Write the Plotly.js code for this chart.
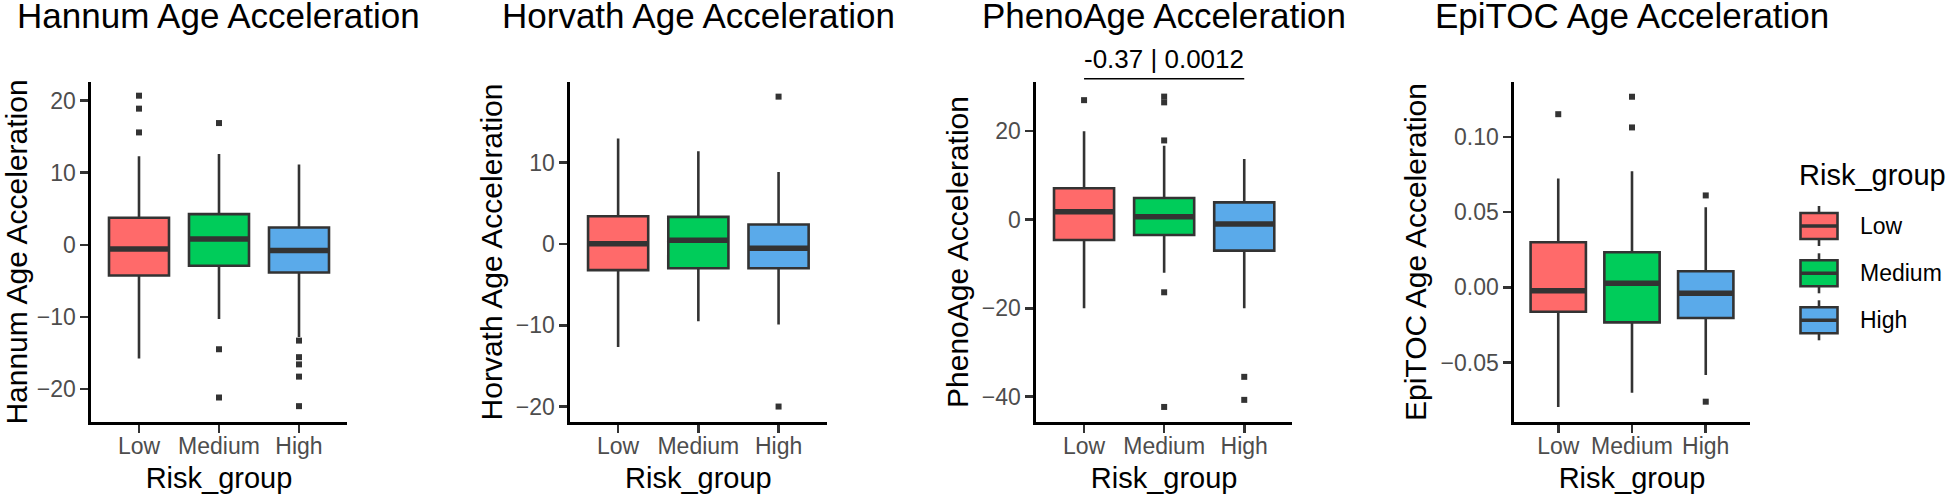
<!DOCTYPE html>
<html>
<head>
<meta charset="utf-8">
<script src="https://cdn.plot.ly/plotly-3.0.1.min.js"></script>
<style>html,body{margin:0;padding:0;background:#fff;}#chart{width:1946px;height:494px;}</style>
</head>
<body>
<div id="chart"></div>
<script>
// ---------------- data ----------------
const groups = ['Low', 'Medium', 'High'];
const groupColors = ['#FF6A6A', '#00CC5A', '#5AAAEA'];
const panelTitles = ['Hannum Age Acceleration', 'Horvath Age Acceleration', 'PhenoAge Acceleration', 'EpiTOC Age Acceleration'];
const xAxisTitle = 'Risk_group';

// Hannum
const hannumLower  = [-15.8, -10.3, -12.8];
const hannumQ1     = [-4.26, -2.9, -3.84];
const hannumMedian = [-0.6, 0.79, -0.79];
const hannumQ3     = [3.75, 4.26, 2.4];
const hannumUpper  = [12.3, 12.6, 11.15];
const hannumOutliers = [[20.7, 18.9, 15.6], [16.9, -14.5, -21.2], [-13.3, -15.6, -16.6, -18.3, -22.4]];

// Horvath
const horvathLower  = [-12.67, -9.5, -9.9];
const horvathQ1     = [-3.23, -2.99, -2.99];
const horvathMedian = [0.0, 0.45, -0.53];
const horvathQ3     = [3.4, 3.32, 2.38];
const horvathUpper  = [12.96, 11.4, 8.85];
const horvathOutliers = [[], [], [18.1, -20.0]];

// PhenoAge
const phenoLower  = [-20.0, -12.0, -20.0];
const phenoQ1     = [-4.6, -3.46, -7.0];
const phenoMedian = [1.8, 0.68, -1.0];
const phenoQ3     = [7.1, 4.9, 3.9];
const phenoUpper  = [20.0, 16.7, 13.7];
const phenoOutliers = [[27.0], [27.8, 26.5, 17.9, -16.4, -42.3], [-35.5, -40.7]];

// EpiTOC
const epitocLower  = [-0.0795, -0.070, -0.0582];
const epitocQ1     = [-0.0162, -0.0233, -0.0204];
const epitocMedian = [-0.0022, 0.0027, -0.0040];
const epitocQ3     = [0.0300, 0.0233, 0.0107];
const epitocUpper  = [0.0723, 0.0771, 0.0533];
const epitocOutliers = [[0.1151], [0.1267, 0.1063], [0.0611, -0.076]];

// comparison annotation (PhenoAge panel, Low vs High)
const statText = '-0.37 | 0.0012';
const statFrom = 'Low';
const statTo = 'High';

// y axis settings per panel
const yRanges = [[-24.6, 22.6], [-21.9, 19.9], [-45.7, 31.1], [-0.0895, 0.1365]];
const yTicks = [[-20, -10, 0, 10, 20], [-20, -10, 0, 10], [-40, -20, 0, 20], [-0.05, 0, 0.05, 0.10]];
const yTickFormats = ['d', 'd', 'd', '.2f'];

// ---------------- layout constants ----------------
const W = 1946, H = 494;
const FONT = 'Liberation Sans, Arial, Helvetica, sans-serif';
const BOX_W = 0.75;
const px = v => v / W;
const py = v => 1 - v / H;
const xDomains = [[91, 347], [570, 826.7], [1036, 1292.3], [1514, 1750]];
const yDomain = [py(422), py(82)];

const panels = [
  {lower: hannumLower, q1: hannumQ1, med: hannumMedian, q3: hannumQ3, upper: hannumUpper, out: hannumOutliers},
  {lower: horvathLower, q1: horvathQ1, med: horvathMedian, q3: horvathQ3, upper: horvathUpper, out: horvathOutliers},
  {lower: phenoLower, q1: phenoQ1, med: phenoMedian, q3: phenoQ3, upper: phenoUpper, out: phenoOutliers},
  {lower: epitocLower, q1: epitocQ1, med: epitocMedian, q3: epitocQ3, upper: epitocUpper, out: epitocOutliers}
];

const traces = [];
const layout = {
  width: W, height: H,
  margin: {l: 0, r: 0, t: 0, b: 0},
  paper_bgcolor: '#ffffff', plot_bgcolor: '#ffffff',
  showlegend: false, boxmode: 'overlay',
  font: {family: FONT, color: '#000'},
  annotations: [], shapes: []
};

panels.forEach((p, k) => {
  const n = k === 0 ? '' : String(k + 1);
  const xa = 'x' + n, ya = 'y' + n;
  groups.forEach((g, i) => {
    traces.push({
      type: 'box', name: g, xaxis: xa, yaxis: ya,
      x: [i], q1: [p.q1[i]], median: [p.med[i]], q3: [p.q3[i]],
      lowerfence: [p.lower[i]], upperfence: [p.upper[i]],
      width: BOX_W, whiskerwidth: 0, boxpoints: false,
      fillcolor: groupColors[i], line: {color: '#333333', width: 2.6},
      hoverinfo: 'skip'
    });
    // thicker median line
    traces.push({
      type: 'scatter', mode: 'lines', xaxis: xa, yaxis: ya,
      x: [i - BOX_W / 2, i + BOX_W / 2], y: [p.med[i], p.med[i]],
      line: {color: '#333333', width: 5.5}, hoverinfo: 'skip'
    });
    if (p.out[i].length) {
      traces.push({
        type: 'scatter', mode: 'markers', xaxis: xa, yaxis: ya,
        x: p.out[i].map(() => i), y: p.out[i],
        marker: {symbol: 'square', size: 6, color: '#333333'},
        cliponaxis: false, hoverinfo: 'skip'
      });
    }
  });
  layout['xaxis' + n] = {
    domain: [px(xDomains[k][0]), px(xDomains[k][1])], anchor: ya,
    range: [-0.6, 2.6], tickvals: [0, 1, 2], ticktext: groups,
    showline: true, linecolor: '#000', linewidth: 2.6,
    ticks: 'outside', ticklen: 8, tickwidth: 2.6, tickcolor: '#333333',
    ticklabelstandoff: -6,
    tickfont: {family: FONT, size: 23, color: '#4D4D4D'},
    showgrid: false, zeroline: false, fixedrange: true,
    title: {text: xAxisTitle, font: {family: FONT, size: 29, color: '#000'}, standoff: 14}
  };
  layout['yaxis' + n] = {
    domain: yDomain, anchor: xa,
    range: yRanges[k], tickvals: yTicks[k], tickformat: yTickFormats[k],
    showline: true, linecolor: '#000', linewidth: 2.6,
    ticks: 'outside', ticklen: 8, tickwidth: 2.6, tickcolor: '#333333',
    tickfont: {family: FONT, size: 23, color: '#4D4D4D'},
    showgrid: false, zeroline: false, fixedrange: true,
    title: {text: panelTitles[k], font: {family: FONT, size: 30, color: '#000'}, standoff: 5}
  };
  // panel title
  layout.annotations.push({
    text: panelTitles[k], xref: xa + ' domain', yref: 'paper', x: 0.5, y: py(16),
    xanchor: 'center', yanchor: 'middle', showarrow: false,
    font: {family: FONT, size: 35, color: '#000'}
  });
});

// comparison bracket + label on PhenoAge panel
const iFrom = groups.indexOf(statFrom), iTo = groups.indexOf(statTo);
layout.shapes.push({
  type: 'line', xref: 'x3', yref: 'paper', x0: iFrom, x1: iTo, y0: py(78.7), y1: py(78.7),
  line: {color: '#000', width: 1.6}
});
layout.annotations.push({
  text: statText, xref: 'x3', yref: 'paper', x: (iFrom + iTo) / 2, y: py(58.8),
  xanchor: 'center', yanchor: 'middle', showarrow: false,
  font: {family: FONT, size: 26, color: '#000'}
});

// custom legend (boxplot glyphs)
layout.annotations.push({
  text: 'Risk_group', xref: 'paper', yref: 'paper', x: px(1797), y: py(175),
  xanchor: 'left', yanchor: 'middle', showarrow: false,
  font: {family: FONT, size: 29, color: '#000'}
});
const legendY = [226, 273.3, 320.3];
groups.forEach((g, i) => {
  const yc = legendY[i];
  layout.shapes.push({type: 'line', xref: 'paper', yref: 'paper', x0: px(1819), x1: px(1819), y0: py(yc - 20), y1: py(yc + 20), line: {color: '#333333', width: 2.6}});
  layout.shapes.push({type: 'rect', xref: 'paper', yref: 'paper', x0: px(1800.5), x1: px(1837.5), y0: py(yc - 13), y1: py(yc + 13), fillcolor: groupColors[i], line: {color: '#333333', width: 2.6}});
  layout.shapes.push({type: 'line', xref: 'paper', yref: 'paper', x0: px(1800.5), x1: px(1837.5), y0: py(yc), y1: py(yc), line: {color: '#333333', width: 3.5}});
  layout.annotations.push({
    text: g, xref: 'paper', yref: 'paper', x: px(1858), y: py(yc),
    xanchor: 'left', yanchor: 'middle', showarrow: false,
    font: {family: FONT, size: 23, color: '#000'}
  });
});

Plotly.newPlot('chart', traces, layout, {staticPlot: true, displayModeBar: false});
</script>
</body>
</html>
